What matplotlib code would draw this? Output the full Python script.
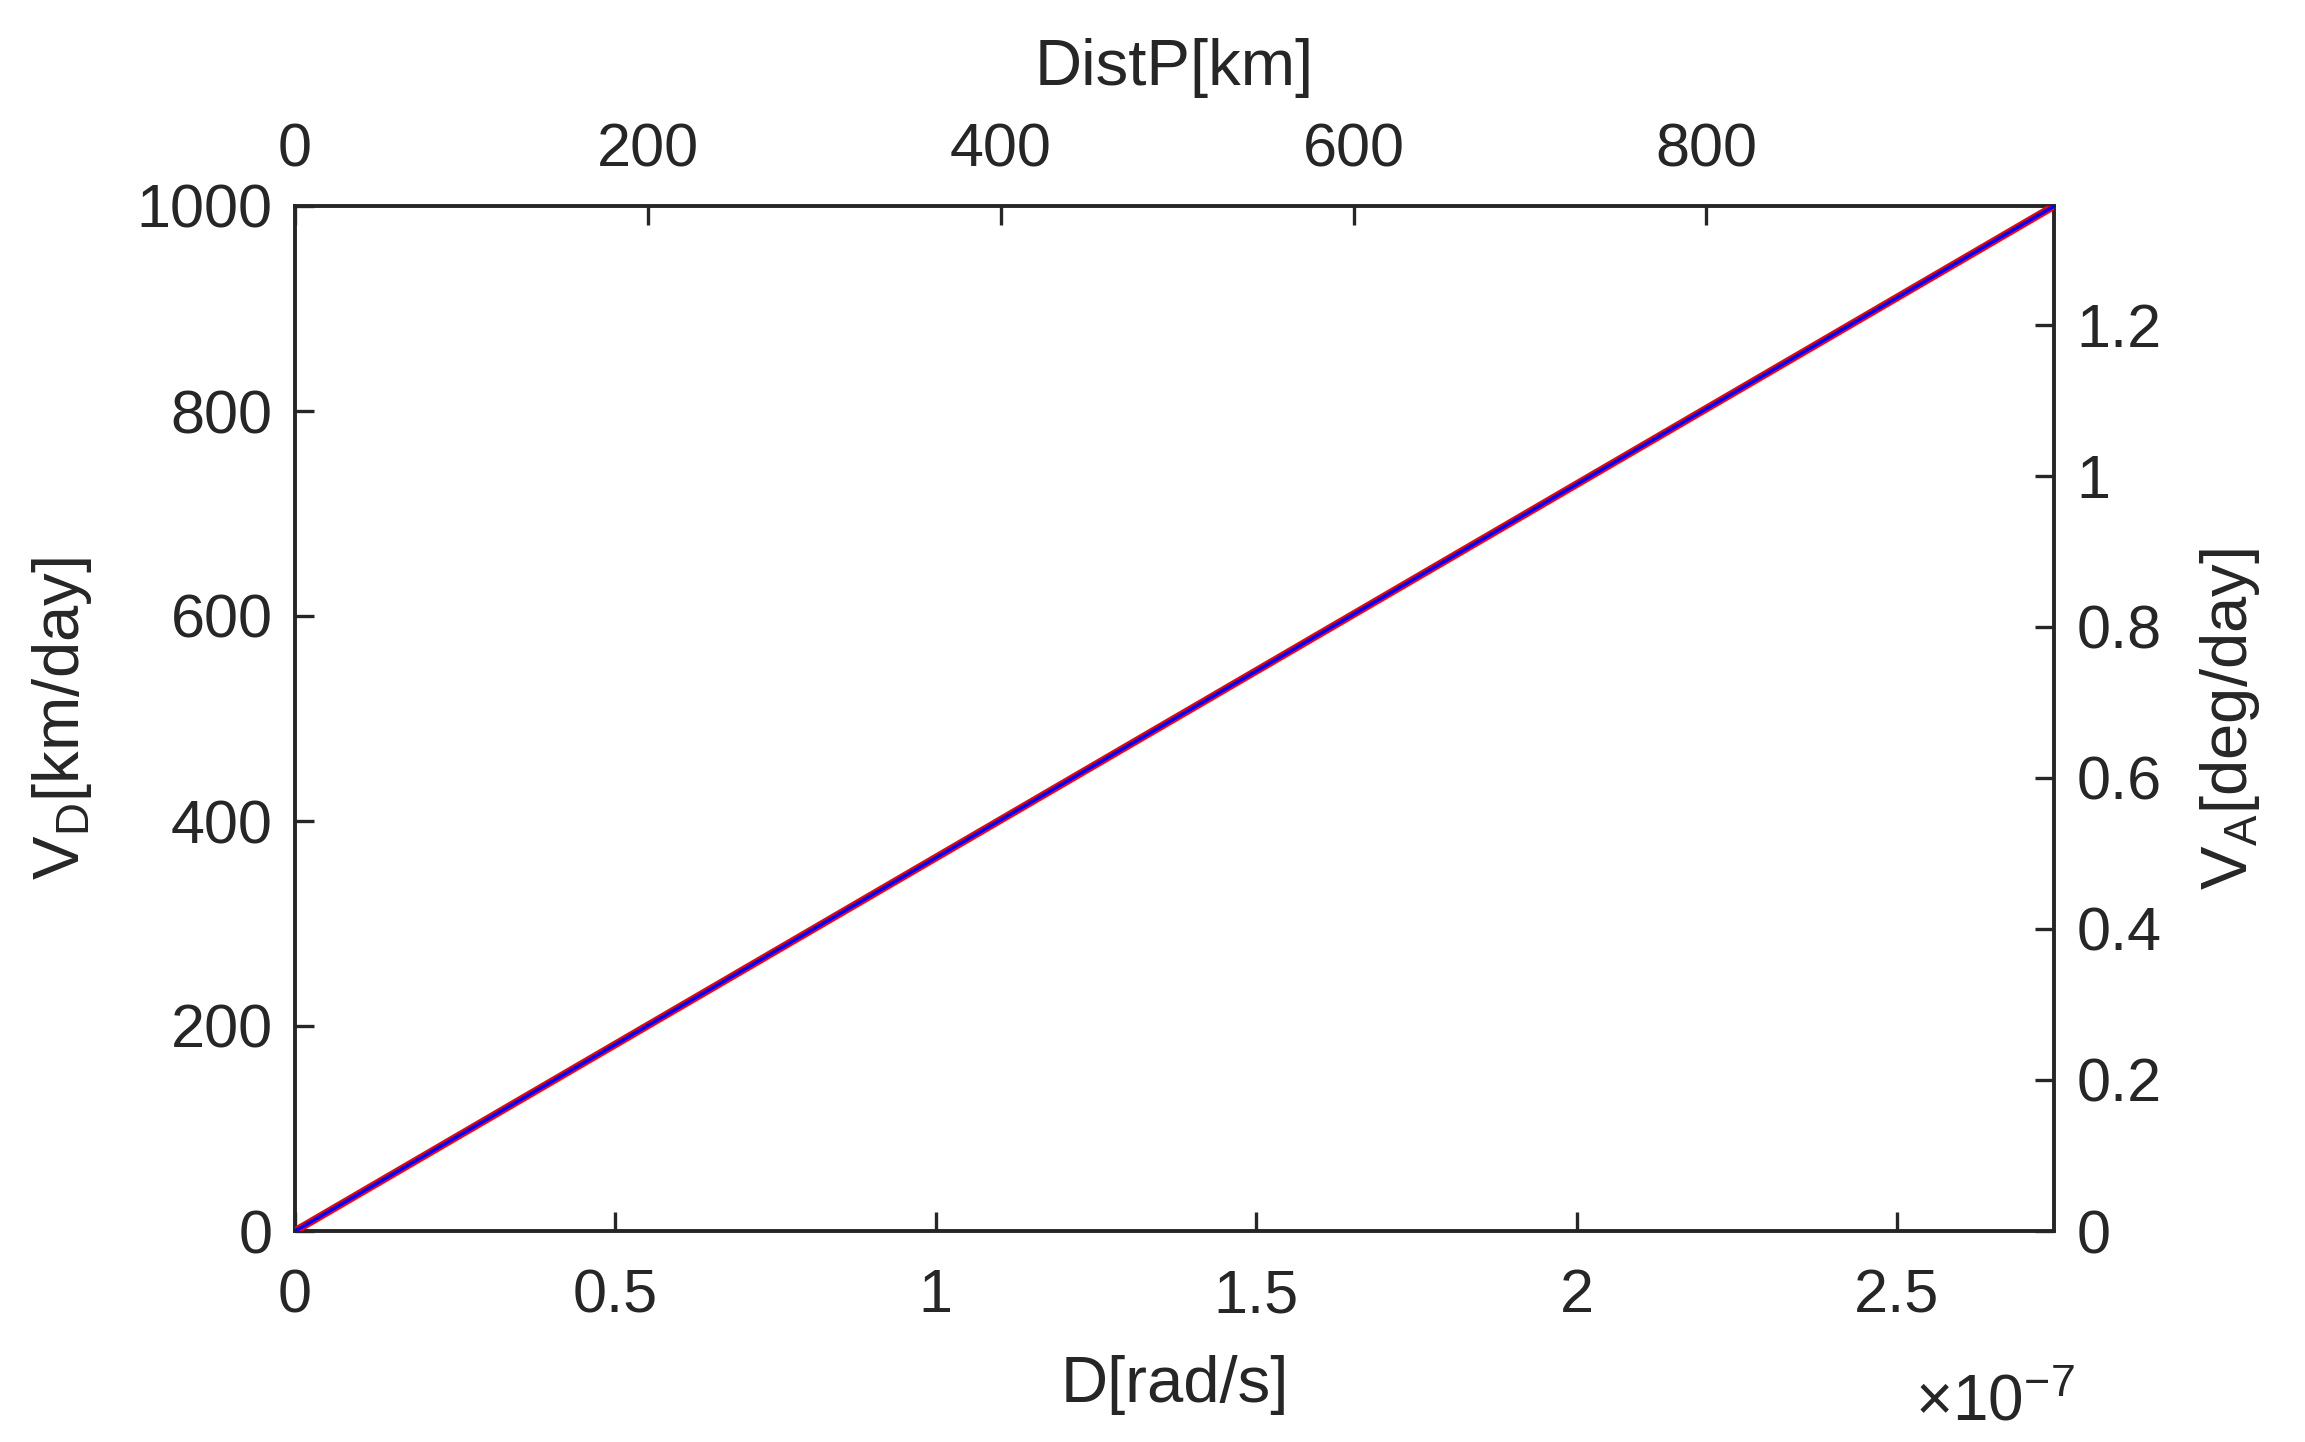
import matplotlib
matplotlib.use("Agg")
import matplotlib.pyplot as plt
from matplotlib.ticker import FuncFormatter, FixedLocator

# ---- data ----
D_rad_s = [0.0, 2.745e-7]          # bottom axis D[rad/s]
VD_km_day = [0.0, 1000.0]          # left axis V_D[km/day]
DistP_km = [0.0, 997.0]            # top axis DistP[km]
VA_deg_day = [0.0, 1.357]          # right axis V_A[deg/day]

bottom_ticks = [0, 0.5e-7, 1.0e-7, 1.5e-7, 2.0e-7, 2.5e-7]
left_ticks = [0, 200, 400, 600, 800, 1000]
top_ticks = [0, 200, 400, 600, 800]
right_ticks = [0, 0.2, 0.4, 0.6, 0.8, 1.0, 1.2]

plt.rcParams['font.family'] = ['Liberation Sans', 'DejaVu Sans']
plt.rcParams['mathtext.fontset'] = 'custom'
plt.rcParams['mathtext.rm'] = 'Liberation Sans'
plt.rcParams['mathtext.it'] = 'Liberation Sans'

TXT = '#262626'
TICK_FS = 44
LAB_FS = 47

fig = plt.figure(figsize=(23.05, 14.42), dpi=100)
pos = [295/2305, 1 - 1231/1442, (2054-295)/2305, (1231-206)/1442]

ax = fig.add_axes(pos)
ax2 = fig.add_axes(pos, frameon=False)

ax.plot(D_rad_s, VD_km_day, color='#ff0000', lw=5.5, solid_capstyle='butt', zorder=3)
ax2.plot(DistP_km, VA_deg_day, color='#0000ff', lw=2.6, solid_capstyle='butt', zorder=4)

ax.set_xlim(D_rad_s[0], D_rad_s[-1])
ax.set_ylim(VD_km_day[0], VD_km_day[-1])
ax2.set_xlim(DistP_km[0], DistP_km[-1])
ax2.set_ylim(VA_deg_day[0], VA_deg_day[-1])

ax.xaxis.set_major_locator(FixedLocator(bottom_ticks))
ax.yaxis.set_major_locator(FixedLocator(left_ticks))
ax2.xaxis.set_major_locator(FixedLocator(top_ticks))
ax2.yaxis.set_major_locator(FixedLocator(right_ticks))

ax.xaxis.set_major_formatter(FuncFormatter(lambda v, p: f"{v/1e-7:g}"))
ax.yaxis.set_major_formatter(FuncFormatter(lambda v, p: f"{v:g}"))
ax2.xaxis.set_major_formatter(FuncFormatter(lambda v, p: f"{v:g}"))
ax2.yaxis.set_major_formatter(FuncFormatter(lambda v, p: f"{v:g}"))

ax2.xaxis.tick_top()
ax2.xaxis.set_label_position('top')
ax2.yaxis.tick_right()
ax2.yaxis.set_label_position('right')

for s in ax.spines.values():
    s.set_linewidth(2.8)
    s.set_color(TXT)

ax.tick_params(axis='both', which='both', direction='in', length=14, width=2.4,
               colors=TXT, labelsize=TICK_FS, top=False, right=False)
ax.tick_params(axis='x', pad=27)
ax.tick_params(axis='y', pad=16)
ax2.tick_params(axis='both', which='both', direction='in', length=14, width=2.4,
                colors=TXT, labelsize=TICK_FS)
ax2.tick_params(axis='x', pad=19)
ax2.tick_params(axis='y', pad=16)

ax.set_xlabel('D[rad/s]', fontsize=LAB_FS, color=TXT, labelpad=21)
ax.set_ylabel(r'V$_{\mathrm{D}}$[km/day]', fontsize=LAB_FS, color=TXT, labelpad=31)
ax2.set_xlabel('DistP[km]', fontsize=LAB_FS, color=TXT, labelpad=27)
ax2.set_ylabel(r'V$_{\mathrm{A}}$[deg/day]', fontsize=LAB_FS, color=TXT, labelpad=26, rotation=90)

ax.text(1.012, -0.168, '×10$^{-7}$', transform=ax.transAxes, ha='right', va='center',
        fontsize=46, color=TXT)

fig.savefig('out.png', dpi=100)
